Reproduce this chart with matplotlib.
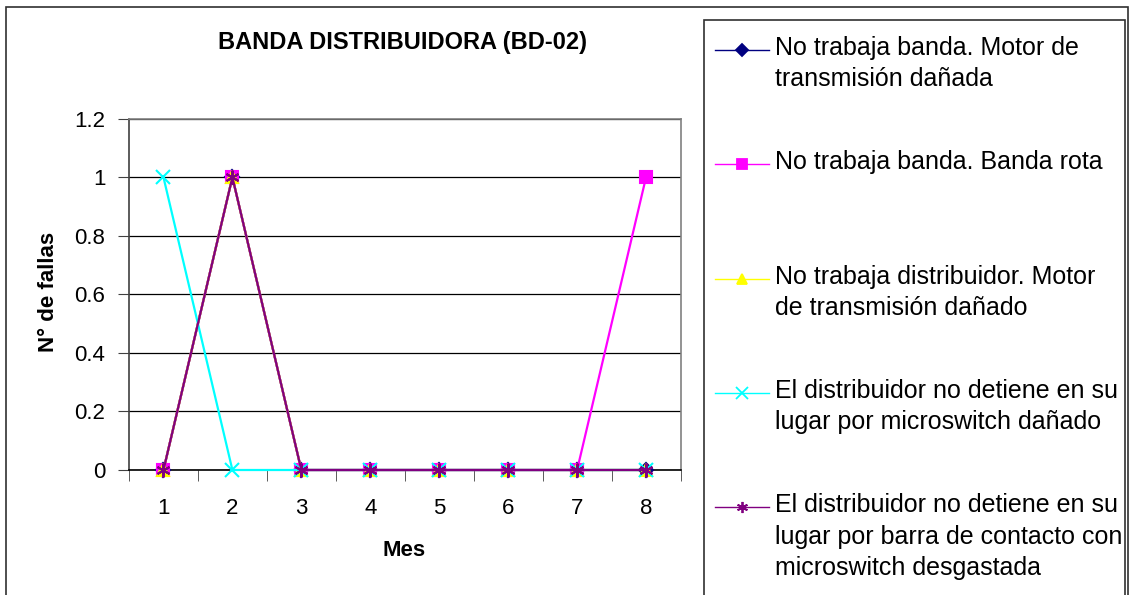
import matplotlib
matplotlib.use('Agg')
import matplotlib.pyplot as plt
from matplotlib.lines import Line2D
from matplotlib.patches import Rectangle

plt.rcParams['font.family'] = 'Liberation Sans'

# data
months = ['1', '2', '3', '4', '5', '6', '7', '8']
motor_banda = [0, 1, 0, 0, 0, 0, 0, 0]
banda_rota = [0, 1, 0, 0, 0, 0, 0, 1]
motor_distrib = [0, 1, 0, 0, 0, 0, 0, 0]
microswitch = [1, 0, 0, 0, 0, 0, 0, 0]
barra_contacto = [0, 1, 0, 0, 0, 0, 0, 0]

labels = ['No trabaja banda. Motor de\ntransmisión dañada',
          'No trabaja banda. Banda rota',
          'No trabaja distribuidor. Motor\nde transmisión dañado',
          'El distribuidor no detiene en su\nlugar por microswitch dañado',
          'El distribuidor no detiene en su\nlugar por barra de contacto con\nmicroswitch desgastada']
series = [motor_banda, banda_rota, motor_distrib, microswitch, barra_contacto]
colors = ['#000080', '#FF00FF', '#FFFF00', '#00FFFF', '#800080']
markers = ['D', 's', '^', 'x', (6, 2, 0)]
msizes = [7, 9, 9, 10, 10]
leg_msizes = [6, 7, 7, 8, 8]

yticks = [0, 0.2, 0.4, 0.6, 0.8, 1, 1.2]
ytick_labels = ['0', '0.2', '0.4', '0.6', '0.8', '1', '1.2']

W, H = 1130, 595


def fx(px):
    return px / W


def fy(py):
    return 1 - py / H


fig = plt.figure(figsize=(W / 100, H / 100), dpi=100)
ax = fig.add_axes([fx(129), fy(470), fx(680.5 - 129), (470 - 118.7) / H])

x = list(range(1, len(months) + 1))
for vals, c, m, ms in zip(series, colors, markers, msizes):
    ax.plot(x, vals, color=c, lw=1.6, marker=m, ms=ms, mec=c, mfc=c,
            mew=1.5, clip_on=False, zorder=3)

ax.set_xlim(0.5, len(months) + 0.5)
ax.set_ylim(0, 1.2)
ax.set_xticks(x)
ax.set_xticklabels(months)
ax.set_xticks([i + 0.5 for i in range(len(months) + 1)], minor=True)
ax.tick_params(axis='x', which='major', length=0, labelsize=16, pad=20)
ax.tick_params(axis='x', which='minor', length=8, direction='out', color='#404040')
ax.set_yticks(yticks)
ax.set_yticklabels(ytick_labels)
ax.tick_params(axis='y', length=8, direction='out', labelsize=16, pad=9, color='#404040')

ax.yaxis.grid(True, color='black', lw=0.9)
ax.set_axisbelow(True)
ax.spines['top'].set_color('#808080')
ax.spines['right'].set_color('#808080')
ax.spines['left'].set_color('#404040')
ax.spines['bottom'].set_color('black')
for s in ax.spines.values():
    s.set_linewidth(1.2)

fig.text(fx(402), fy(43), 'BANDA DISTRIBUIDORA (BD-02)', ha='center', va='center',
         fontsize=17, weight='bold')
fig.text(fx(404.5), fy(550), 'Mes', ha='center', va='center', fontsize=16, weight='bold')
fig.text(fx(48), fy(292), 'N° de fallas', ha='center', va='center', rotation=90,
         fontsize=16, weight='bold')

# chart border and legend box
fig.add_artist(Rectangle((fx(6), fy(620)), fx(1128 - 6), (620 - 7) / H, fill=False,
                         ec='#303030', lw=1.2, transform=fig.transFigure))
fig.add_artist(Rectangle((fx(704), fy(620)), fx(1125 - 704), (620 - 20) / H, fill=False,
                         ec='#303030', lw=1.2, transform=fig.transFigure))

# legend entries, handle aligned with the first text line
for i, (lab, c, m, ms) in enumerate(zip(labels, colors, markers, leg_msizes)):
    base = 55 + i * 114.3
    fig.add_artist(Line2D([fx(715), fx(769)], [fy(base - 5)] * 2, color=c, lw=1,
                          transform=fig.transFigure))
    fig.add_artist(Line2D([fx(742)], [fy(base - 5)], color=c, marker=m, ms=ms, mec=c,
                          mfc=c, mew=1.3, transform=fig.transFigure))
    for j, line in enumerate(lab.split('\n')):
        fig.text(fx(775), fy(base + j * 31.5), line, ha='left', va='baseline',
                 fontsize=18)

fig.savefig('out.png', dpi=100)
